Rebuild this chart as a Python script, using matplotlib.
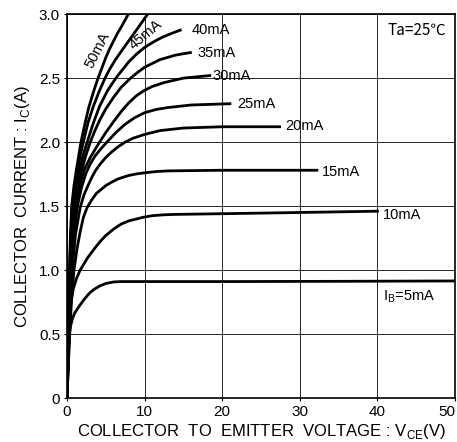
import matplotlib
matplotlib.use("Agg")
import matplotlib.pyplot as plt

plt.rcParams['font.family'] = ['Liberation Sans', 'DejaVu Sans']

# Ic-Vce characteristics (V, A)
ib_labels = ['50mA', '45mA', '40mA', '35mA', '30mA', '25mA', '20mA', '15mA', '10mA', 'I$_\\mathregular{B}$=5mA']

vce_50 = [0, 0.15, 0.3, 0.45, 0.6, 0.9, 1.2, 1.8, 2.3, 2.8, 3.4, 4.0, 4.5, 5.0, 5.5, 6.0, 6.5, 7.0, 7.9]
ic_50 = [0, 0.5, 1.0, 1.28, 1.5, 1.66, 1.78, 2.0, 2.14, 2.27, 2.39, 2.5, 2.58, 2.66, 2.73, 2.79, 2.85, 2.9, 3.0]

vce_45 = [0, 0.17, 0.35, 0.5, 0.7, 1.0, 1.3, 1.7, 2.1, 2.7, 3.4, 4.1, 4.9, 5.5, 6.2, 7.0, 7.7, 8.3, 9.0, 9.7, 10.4]
ic_45 = [0, 0.5, 1.0, 1.28, 1.5, 1.66, 1.77, 1.89, 2.0, 2.15, 2.28, 2.39, 2.5, 2.57, 2.64, 2.71, 2.77, 2.82, 2.88, 2.94, 3.0]

vce_40 = [0, 0.2, 0.4, 0.6, 0.85, 1.2, 1.6, 2.1, 2.6, 3.4, 4.2, 5.2, 6.3, 7.2, 8.0, 9.0, 10.0, 11.2, 12.3, 13.5, 14.6]
ic_40 = [0, 0.5, 1.0, 1.28, 1.5, 1.66, 1.78, 1.9, 2.0, 2.15, 2.28, 2.4, 2.5, 2.57, 2.63, 2.69, 2.74, 2.785, 2.82, 2.85, 2.875]

vce_35 = [0, 0.22, 0.45, 0.7, 1.0, 1.4, 1.9, 2.4, 3.0, 3.6, 4.2, 5.0, 6.0, 7.0, 8.2, 9.0, 10.0, 12.0, 14.0, 15.9]
ic_35 = [0, 0.5, 1.0, 1.28, 1.5, 1.65, 1.78, 1.89, 2.0, 2.09, 2.17, 2.26, 2.35, 2.43, 2.5, 2.54, 2.585, 2.645, 2.68, 2.70]

vce_30 = [0, 0.25, 0.5, 0.8, 1.15, 1.6, 2.2, 3.0, 4.2, 5.0, 6.0, 7.0, 8.0, 9.0, 10.0, 11.0, 12.5, 15.0, 18.4]
ic_30 = [0, 0.5, 1.0, 1.28, 1.5, 1.65, 1.78, 1.88, 2.0, 2.075, 2.16, 2.24, 2.31, 2.365, 2.405, 2.435, 2.465, 2.5, 2.52]

vce_25 = [0, 0.27, 0.55, 0.9, 1.35, 1.85, 2.4, 3.0, 3.6, 4.4, 5.3, 6.3, 7.5, 8.7, 10.0, 11.5, 13.0, 16.0, 21.0]
ic_25 = [0, 0.5, 1.0, 1.28, 1.5, 1.64, 1.75, 1.83, 1.89, 1.95, 2.01, 2.075, 2.14, 2.19, 2.23, 2.255, 2.27, 2.29, 2.30]

vce_20 = [0, 0.3, 0.65, 1.1, 1.7, 2.2, 2.7, 3.2, 3.7, 4.3, 5.0, 5.7, 6.5, 7.5, 8.5, 10.0, 12.0, 15.0, 20.0, 27.4]
ic_20 = [0, 0.5, 1.0, 1.28, 1.49, 1.59, 1.66, 1.725, 1.78, 1.83, 1.88, 1.92, 1.96, 2.0, 2.03, 2.06, 2.09, 2.11, 2.12, 2.12]

vce_15 = [0, 0.35, 0.6, 0.9, 1.3, 1.7, 2.1, 2.6, 3.2, 3.8, 4.4, 5.0, 5.7, 6.5, 7.2, 8.0, 9.0, 10.0, 11.5, 13.0, 20.0, 32.2]
ic_15 = [0, 0.5, 0.78, 1.0, 1.17, 1.3, 1.41, 1.49, 1.55, 1.6, 1.63, 1.66, 1.685, 1.71, 1.725, 1.74, 1.752, 1.76, 1.77, 1.775, 1.78, 1.78]

vce_10 = [0, 0.15, 0.4, 0.8, 1.2, 1.7, 2.2, 2.7, 3.2, 3.7, 4.3, 5.0, 6.0, 7.0, 8.0, 9.0, 10.0, 11.0, 12.5, 14.0, 25.0, 40.0]
ic_10 = [0, 0.4, 0.7, 0.85, 0.93, 1.0, 1.05, 1.1, 1.14, 1.18, 1.225, 1.27, 1.32, 1.36, 1.385, 1.40, 1.415, 1.425, 1.432, 1.435, 1.445, 1.46]

vce_5 = [0, 0.1, 0.2, 0.3, 0.45, 0.7, 1.0, 1.6, 2.2, 2.9, 3.5, 4.2, 5.0, 6.0, 7.0, 20.0, 35.0, 50.0]
ic_5 = [0, 0.3, 0.43, 0.5, 0.56, 0.62, 0.665, 0.72, 0.77, 0.82, 0.85, 0.875, 0.895, 0.907, 0.91, 0.91, 0.912, 0.915]

curves = [(vce_50, ic_50), (vce_45, ic_45), (vce_40, ic_40), (vce_35, ic_35),
          (vce_30, ic_30), (vce_25, ic_25), (vce_20, ic_20), (vce_15, ic_15),
          (vce_10, ic_10), (vce_5, ic_5)]

x_ticks = [0, 10, 20, 30, 40, 50]
x_tick_labels = ['0', '10', '20', '30', '40', '50']
y_ticks = [0, 0.5, 1.0, 1.5, 2.0, 2.5, 3.0]
y_tick_labels = ['0', '0.5', '1.0', '1.5', '2.0', '2.5', '3.0']

fig = plt.figure(figsize=(4.57, 4.42), dpi=100)
ax = fig.add_axes([0.1466, 0.0995, 0.849, 0.8685])

for v, i in curves:
    ax.plot(v, i, color='black', lw=2.0, solid_joinstyle='round')

# label positions (V, A, rotation, ha)
label_pos = [(3.9, 2.72, 63, 'center'), (10.1, 2.84, 40, 'center'),
             (16.1, 2.875, 0, 'left'), (16.8, 2.70, 0, 'left'),
             (18.7, 2.52, 0, 'left'), (21.9, 2.30, 0, 'left'),
             (28.1, 2.125, 0, 'left'), (32.9, 1.77, 0, 'left'),
             (40.7, 1.43, 0, 'left'), (40.7, 0.79, 0, 'left')]
for lab, (x, y, rot, ha) in zip(ib_labels, label_pos):
    ax.text(x, y, lab, rotation=rot, ha=ha, va='center', fontsize=10.5)

ax.text(41.3, 2.875, 'Ta=25\u2103', ha='left', va='center', fontsize=11,
        family=['Noto Sans CJK JP', 'DejaVu Sans'])

ax.set_xlim(0, 50)
ax.set_ylim(0, 3.0)
ax.set_xticks(x_ticks)
ax.set_xticklabels(x_tick_labels)
ax.get_xticklabels()[-1].set_horizontalalignment('right')
ax.set_yticks(y_ticks)
ax.set_yticklabels(y_tick_labels)
ax.grid(True, color='#222222', lw=0.7)
ax.set_axisbelow(True)
ax.tick_params(direction='out', length=2, width=0.8, labelsize=11, pad=3)
for s in ax.spines.values():
    s.set_linewidth(1.2)

ax.set_xlabel('COLLECTOR  TO  EMITTER  VOLTAGE : V$_\\mathregular{CE}$(V)',
              fontsize=12, labelpad=2)
ax.set_ylabel('COLLECTOR  CURRENT : I$_\\mathregular{C}$(A)', fontsize=12, labelpad=5)

fig.savefig('out.png', dpi=100)
